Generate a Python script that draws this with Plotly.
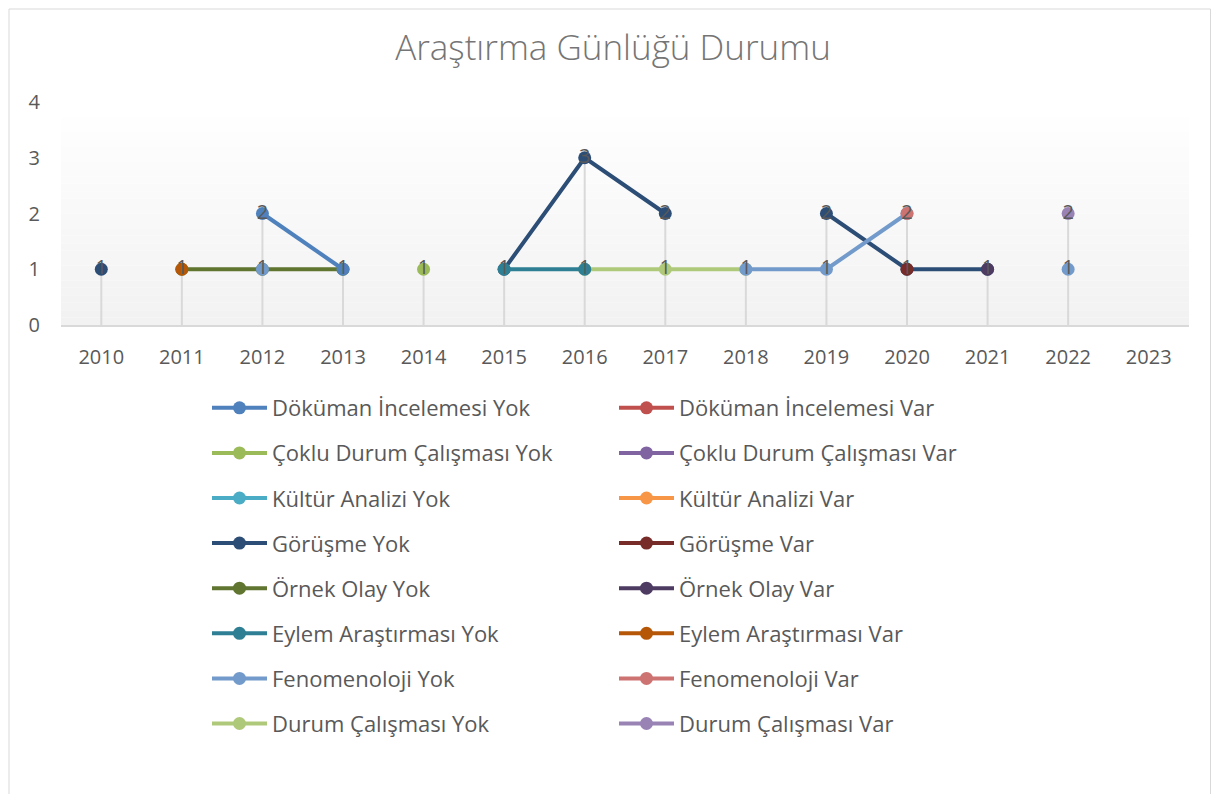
import plotly.graph_objects as go

# ---------------- data ----------------
years = [2010, 2011, 2012, 2013, 2014, 2015, 2016, 2017, 2018, 2019, 2020, 2021, 2022, 2023]
year_labels = [str(y) for y in years]
N = None

dokuman_yok = [N, N, 2, 1, N, N, N, N, N, N, N, N, N, N]
dokuman_var = [N, N, N, N, N, N, N, N, N, N, N, N, N, N]
coklu_yok   = [N, N, N, N, 1, N, N, N, N, N, N, N, N, N]
coklu_var   = [N, N, N, N, N, N, N, N, N, N, N, N, N, N]
kultur_yok  = [N, N, N, N, N, N, N, N, N, N, N, N, N, N]
kultur_var  = [N, N, N, N, N, N, N, N, N, N, N, N, N, N]
gorusme_yok = [1, N, N, N, N, 1, 3, 2, N, 2, 1, 1, N, N]
gorusme_var = [N, N, N, N, N, N, N, N, N, N, 1, N, N, N]
ornek_yok   = [N, 1, 1, 1, N, N, N, N, N, N, N, N, N, N]
ornek_var   = [N, N, N, N, N, N, N, N, N, N, N, 1, N, N]
eylem_yok   = [N, N, N, N, N, 1, 1, N, N, N, N, N, N, N]
eylem_var   = [N, 1, N, N, N, N, N, N, N, N, N, N, N, N]
fenomen_yok = [N, N, 1, N, N, N, N, N, 1, 1, 2, N, 1, N]
fenomen_var = [N, N, N, N, N, N, N, N, N, N, 2, N, N, N]
durum_yok   = [N, N, N, N, N, N, 1, 1, 1, N, N, N, N, N]
durum_var   = [N, N, N, N, N, N, N, N, N, N, N, N, 2, N]

# legend order (Excel order)
series = [
    ("Döküman İncelemesi Yok", dokuman_yok, "#4F81BD"),
    ("Döküman İncelemesi Var", dokuman_var, "#C0504D"),
    ("Çoklu Durum Çalışması Yok", coklu_yok, "#9BBB59"),
    ("Çoklu Durum Çalışması Var", coklu_var, "#8064A2"),
    ("Kültür Analizi Yok", kultur_yok, "#4BACC6"),
    ("Kültür Analizi Var", kultur_var, "#F79646"),
    ("Görüşme Yok", gorusme_yok, "#2C4D75"),
    ("Görüşme Var", gorusme_var, "#772C2A"),
    ("Örnek Olay Yok", ornek_yok, "#5F7530"),
    ("Örnek Olay Var", ornek_var, "#4D3B62"),
    ("Eylem Araştırması Yok", eylem_yok, "#2E7F93"),
    ("Eylem Araştırması Var", eylem_var, "#B65708"),
    ("Fenomenoloji Yok", fenomen_yok, "#729ACA"),
    ("Fenomenoloji Var", fenomen_var, "#CD7371"),
    ("Durum Çalışması Yok", durum_yok, "#AFC97A"),
    ("Durum Çalışması Var", durum_var, "#9983B5"),
]
# drawing order (which marker ends up on top)
draw_order = [14, 8, 0, 6, 10, 7, 9, 11, 12, 13, 2, 15, 1, 3, 4, 5]

FONT = "Open Sans"
GREY = "#595959"

W, H = 1203, 786
L, T, R, B = 53, 94, 1181, 317  # plot area in figure pixels
PW, PH = R - L, B - T
Y_MAX = 4

fig = go.Figure()

# background gradient of plot area
nb = 30
for i in range(nb):
    t = i / (nb - 1)
    c = int(round(255 - 13 * (1 - t)))
    fig.add_shape(type="rect", xref="paper", yref="paper",
                  x0=0, x1=1, y0=i / nb, y1=(i + 1) / nb,
                  fillcolor=f"rgb({c},{c},{c})", line_width=0, layer="below")

# drop lines (from the highest value of each year down to the axis)
dx, dy = [], []
for j, yr in enumerate(years):
    vals = [s[1][j] for s in series if s[1][j] is not None]
    if vals:
        dx += [yr, yr, None]
        dy += [0, max(vals), None]
fig.add_trace(go.Scatter(x=dx, y=dy, mode="lines", line=dict(color="#D9D9D9", width=2),
                         showlegend=False, hoverinfo="skip"))

for idx in draw_order:
    name, vals, col = series[idx]
    leg = "legend" if idx % 2 == 0 else "legend2"
    fig.add_trace(go.Scatter(
        x=years, y=vals, name=name, mode="lines+markers",
        line=dict(color=col, width=4), marker=dict(color=col, size=13),
        legend=leg, legendgroup=name, legendrank=idx, connectgaps=False,
    ))

# data labels on top (one label per distinct point)
lx, ly, lt = [], [], []
seen = set()
for name, vals, col in series:
    for yr, v in zip(years, vals):
        if v is not None and (yr, v) not in seen:
            seen.add((yr, v))
            lx.append(yr)
            ly.append(v)
            lt.append(str(v))
fig.add_trace(go.Scatter(
    x=lx, y=ly, mode="text", text=lt, textposition="middle center",
    textfont=dict(family=FONT, size=20, color="#595959"),
    showlegend=False, hoverinfo="skip",
))

# chart border
fig.add_shape(type="rect", xref="paper", yref="paper",
              x0=(1 - L) / PW, x1=(1202.5 - L) / PW,
              y0=(B - 800) / PH, y1=(B - 1) / PH,
              line=dict(color="#D9D9D9", width=1), fillcolor="rgba(0,0,0,0)", layer="below")

legend_common = dict(
    orientation="v", xref="container", yref="container", xanchor="left", yanchor="top",
    font=dict(family=FONT, size=22, color=GREY), itemwidth=55, tracegroupgap=13.5,
    bgcolor="rgba(0,0,0,0)", borderwidth=0, traceorder="grouped",
)

fig.update_layout(
    width=W, height=H,
    margin=dict(l=L, r=W - R, t=T, b=H - B, autoexpand=False),
    paper_bgcolor="white", plot_bgcolor="rgba(0,0,0,0)",
    title=dict(text="Araştırma Günlüğü Durumu", x=605 / W, xanchor="center",
               y=1 - 40 / H, yanchor="middle",
               font=dict(family=FONT, size=35, color="#757575", weight=300)),
    xaxis=dict(range=[2009.5, 2023.5], tickvals=years, ticktext=year_labels,
               showgrid=False, zeroline=False, showline=True, linecolor="#D9D9D9", linewidth=2,
               ticks="", ticklabelstandoff=13,
               tickfont=dict(family=FONT, size=20, color=GREY)),
    yaxis=dict(range=[0, Y_MAX], dtick=1, tick0=0, showgrid=False, zeroline=False, showline=False,
               ticks="", ticklabelstandoff=20,
               tickfont=dict(family=FONT, size=20, color=GREY)),
    legend=dict(x=199 / W, y=1 - 379 / H, **legend_common),
    legend2=dict(x=606 / W, y=1 - 379 / H, **legend_common),
    showlegend=True,
)

fig.write_html("out.html")
